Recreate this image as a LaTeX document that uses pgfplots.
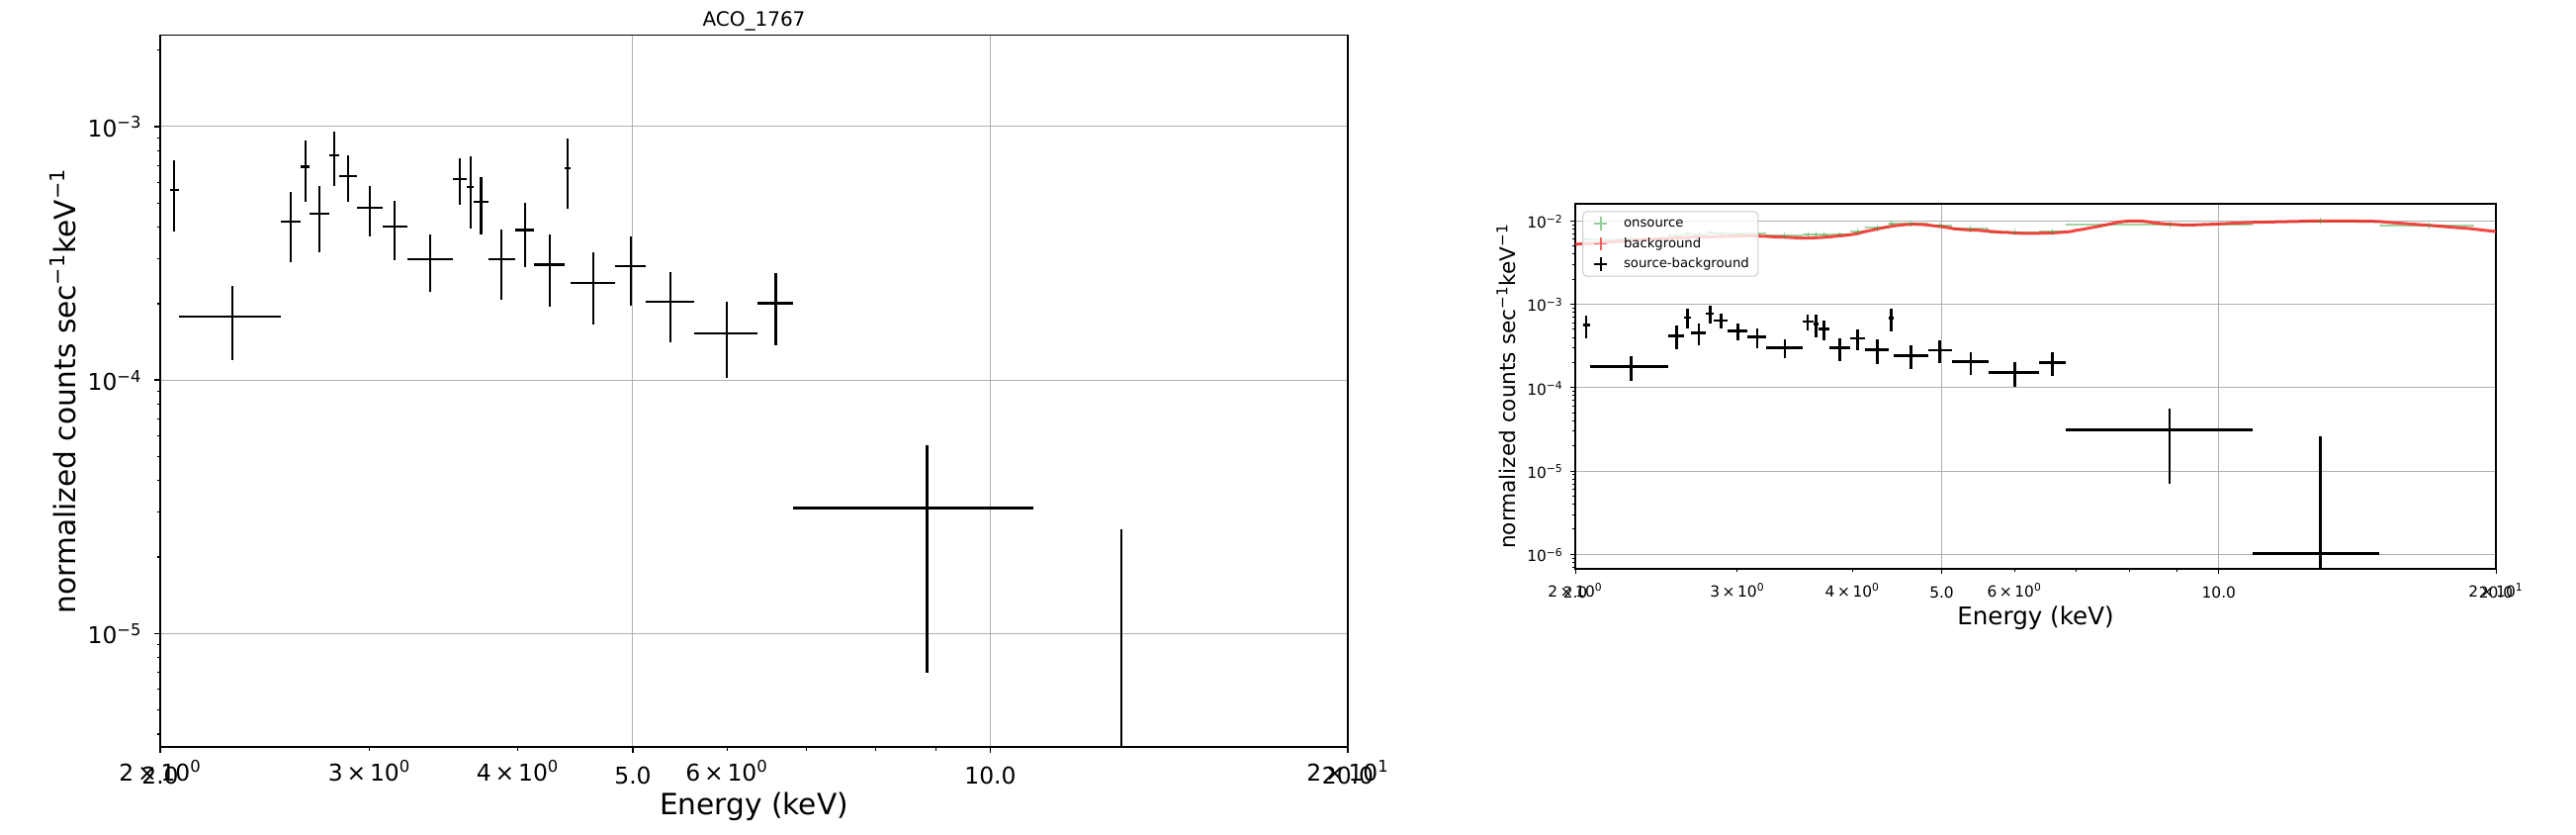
\documentclass[border=0pt]{standalone}
\usepackage{fontspec}
\setmainfont{DejaVu Sans}
\usepackage{pgfplots}
\pgfplotsset{compat=1.18}
\usepackage{pgfplotstable}

\definecolor{gridgray}{RGB}{176,176,176}
\definecolor{ongreen}{RGB}{44,160,44}
\definecolor{bgred}{RGB}{238,40,35}
\definecolor{leggray}{RGB}{204,204,204}

\pgfplotstableread{
c h y ey eym
2.0555 0.0175 5.62e-4 1.75e-4 1.75e-4
2.300 0.225 1.778e-4 0.58e-4 0.58e-4
2.575 0.050 4.21e-4 1.30e-4 1.30e-4
2.649 0.024 6.95e-4 1.89e-4 1.89e-4
2.724 0.051 4.52e-4 1.32e-4 1.32e-4
2.802 0.027 7.70e-4 1.89e-4 1.89e-4
2.8785 0.0495 6.38e-4 1.31e-4 1.31e-4
3.0025 0.0745 4.77e-4 1.07e-4 1.07e-4
3.152 0.075 4.03e-4 1.06e-4 1.06e-4
3.3775 0.1505 2.99e-4 0.76e-4 0.76e-4
3.577 0.049 6.20e-4 1.29e-4 1.29e-4
3.650 0.024 5.79e-4 1.83e-4 1.83e-4
3.7255 0.0515 5.04e-4 1.30e-4 1.30e-4
3.8785 0.1015 2.99e-4 0.92e-4 0.92e-4
4.055 0.075 3.91e-4 1.11e-4 1.11e-4
4.255 0.125 2.85e-4 0.91e-4 0.91e-4
4.405 0.025 6.86e-4 2.10e-4 2.10e-4
4.631 0.201 2.42e-4 0.77e-4 0.77e-4
4.9785 0.1465 2.82e-4 0.85e-4 0.85e-4
5.3765 0.2515 2.04e-4 0.63e-4 0.63e-4
6.0005 0.3725 1.53e-4 0.51e-4 0.51e-4
6.5955 0.2225 2.01e-4 0.64e-4 0.64e-4
8.844 2.026 3.12e-5 2.42e-5 2.42e-5
12.895 2.025 1.03e-6 2.48e-5 1.029e-6
}\srcdata

\pgfplotstableread{
c h on
2.0555 0.0175 5.92e-3
2.300 0.225 6.03e-3
2.575 0.050 6.69e-3
2.649 0.024 7.03e-3
2.724 0.051 6.85e-3
2.802 0.027 7.22e-3
2.8785 0.0495 7.16e-3
3.0025 0.0745 7.08e-3
3.152 0.075 7.00e-3
3.3775 0.1505 6.68e-3
3.577 0.049 6.85e-3
3.650 0.024 6.88e-3
3.7255 0.0515 6.88e-3
3.8785 0.1015 6.90e-3
4.055 0.075 7.44e-3
4.255 0.125 8.24e-3
4.405 0.025 9.31e-3
4.631 0.201 9.34e-3
4.9785 0.1465 8.83e-3
5.3765 0.2515 8.00e-3
6.0005 0.3725 7.35e-3
6.5955 0.2225 7.40e-3
8.844 2.026 8.96e-3
12.895 2.025 9.90e-3
16.93 2.010 8.70e-3
}\ondata

\pgfplotstableread{
E v
2.00 5.25e-3
2.05 5.32e-3
2.10 5.40e-3
2.15 5.52e-3
2.20 5.60e-3
2.26 5.74e-3
2.32 5.86e-3
2.38 5.96e-3
2.45 6.06e-3
2.52 6.17e-3
2.60 6.28e-3
2.70 6.40e-3
2.80 6.44e-3
2.90 6.54e-3
3.00 6.59e-3
3.08 6.65e-3
3.15 6.58e-3
3.22 6.53e-3
3.30 6.43e-3
3.40 6.36e-3
3.48 6.26e-3
3.55 6.21e-3
3.62 6.25e-3
3.70 6.33e-3
3.78 6.44e-3
3.86 6.59e-3
3.92 6.69e-3
3.98 6.83e-3
4.05 7.04e-3
4.12 7.42e-3
4.20 7.74e-3
4.28 8.12e-3
4.36 8.44e-3
4.44 8.74e-3
4.52 8.93e-3
4.60 9.09e-3
4.68 9.11e-3
4.76 9.06e-3
4.84 8.89e-3
4.92 8.71e-3
5.00 8.54e-3
5.08 8.31e-3
5.16 8.04e-3
5.25 7.91e-3
5.35 7.81e-3
5.45 7.76e-3
5.56 7.61e-3
5.68 7.46e-3
5.80 7.31e-3
5.92 7.26e-3
6.05 7.14e-3
6.18 7.08e-3
6.30 7.09e-3
6.45 7.13e-3
6.60 7.19e-3
6.75 7.29e-3
6.90 7.44e-3
7.00 7.71e-3
7.12 7.94e-3
7.25 8.26e-3
7.38 8.54e-3
7.50 8.86e-3
7.62 9.19e-3
7.74 9.56e-3
7.85 9.79e-3
7.98 9.96e-3
8.12 1.00e-2
8.25 9.94e-3
8.38 9.76e-3
8.50 9.49e-3
8.65 9.31e-3
8.80 9.14e-3
9.00 9.03e-3
9.18 8.91e-3
9.40 8.96e-3
9.60 9.04e-3
9.80 9.11e-3
10.0 9.21e-3
10.3 9.36e-3
10.6 9.49e-3
10.9 9.61e-3
11.3 9.69e-3
11.7 9.79e-3
12.1 9.84e-3
12.5 9.96e-3
12.9 1.00e-2
13.3 9.97e-3
13.8 9.96e-3
14.3 9.94e-3
14.9 9.86e-3
15.4 9.54e-3
15.9 9.31e-3
16.5 9.04e-3
17.2 8.73e-3
17.9 8.41e-3
18.7 8.11e-3
19.3 7.79e-3
20.0 7.45e-3
}\bgdata

\begin{document}
\begin{tikzpicture}
\path[use as bounding box] (0,0) rectangle (1302.5pt,421.5pt);

% ---------------- left panel ----------------
\begin{axis}[
  at={(81pt,44pt)}, anchor=south west,
  width=600.5pt, height=359.75pt, scale only axis,
  xmode=log, ymode=log,
  xmin=2, xmax=20, ymin=3.557e-6, ymax=2.297e-3,
  xtick={2,5,10,20}, xticklabels={2.0,5.0,10.0,20.0},
  minor xtick={3,4,6,7,8,9},
  extra x ticks={2,3,4,6,20},
  extra x tick labels={2\,×\,10\textsuperscript{0},3\,×\,10\textsuperscript{0},4\,×\,10\textsuperscript{0},6\,×\,10\textsuperscript{0},2\,×\,10\textsuperscript{1}},
  extra x tick style={grid=none, major tick length=1.75pt},
  ytick={1e-5,1e-4,1e-3},
  yticklabels={10\textsuperscript{−5},10\textsuperscript{−4},10\textsuperscript{−3}},
  minor ytick={4e-6,5e-6,6e-6,7e-6,8e-6,9e-6,2e-5,3e-5,4e-5,5e-5,6e-5,7e-5,8e-5,9e-5,2e-4,3e-4,4e-4,5e-4,6e-4,7e-4,8e-4,9e-4,2e-3},
  grid=major, major grid style={gridgray, line width=0.5pt},
  tick align=outside, xtick pos=bottom, ytick pos=left,
  major tick length=3pt, minor tick length=1.75pt,
  every tick/.style={black, line width=0.55pt},
  axis line style={line width=0.6pt},
  tick label style={font=\fontsize{11.7}{14}\selectfont},
  xticklabel style={anchor=base, yshift=-15.5pt},
  yticklabel style={anchor=base east, inner xsep=0pt, xshift=-6pt, yshift=-5.35pt},
  title={ACO\_1767},
  every axis title/.style={at={(axis description cs:0.5,1.0125)}, anchor=base, font=\fontsize{10}{12}\selectfont},
  xlabel={Energy (keV)},
  xlabel style={at={(axis description cs:0.5,-0.0945)}, anchor=base, font=\fontsize{14.8}{17}\selectfont},
  ylabel={normalized counts sec\textsuperscript{−1}keV\textsuperscript{−1}},
  ylabel style={at={(axis description cs:-0.082,0.5)}, anchor=center, font=\fontsize{14.8}{17}\selectfont},
]
\addplot[draw=none, mark=none,
  error bars/.cd, x dir=both, x explicit, y dir=both, y explicit,
  error mark=none, error bar style={draw=black, line width=1.1pt}]
  table[x=c, y=y, x error=h, y error plus=ey, y error minus=eym] {\srcdata};
\end{axis}

% ---------------- right panel ----------------
\begin{axis}[
  at={(796.5pt,134pt)}, anchor=south west,
  width=465.5pt, height=184.5pt, scale only axis,
  xmode=log, ymode=log,
  xmin=2, xmax=20, ymin=6.69e-7, ymax=1.604e-2,
  xtick={2,5,10,20}, xticklabels={2.0,5.0,10.0,20.0},
  minor xtick={3,4,6,7,8,9},
  extra x ticks={2,3,4,6,20},
  extra x tick labels={2\,×\,10\textsuperscript{0},3\,×\,10\textsuperscript{0},4\,×\,10\textsuperscript{0},6\,×\,10\textsuperscript{0},2\,×\,10\textsuperscript{1}},
  extra x tick style={grid=none, major tick length=1.5pt},
  ytick={1e-6,1e-5,1e-4,1e-3,1e-2},
  yticklabels={10\textsuperscript{−6},10\textsuperscript{−5},10\textsuperscript{−4},10\textsuperscript{−3},10\textsuperscript{−2}},
  minor ytick={7e-7,8e-7,9e-7,2e-6,3e-6,4e-6,5e-6,6e-6,7e-6,8e-6,9e-6,2e-5,3e-5,4e-5,5e-5,6e-5,7e-5,8e-5,9e-5,2e-4,3e-4,4e-4,5e-4,6e-4,7e-4,8e-4,9e-4,2e-3,3e-3,4e-3,5e-3,6e-3,7e-3,8e-3,9e-3},
  grid=major, major grid style={gridgray, line width=0.5pt},
  tick align=outside, xtick pos=bottom, ytick pos=left,
  major tick length=2.4pt, minor tick length=1.5pt,
  every tick/.style={black, line width=0.5pt},
  axis line style={line width=0.6pt},
  tick label style={font=\fontsize{7.7}{9}\selectfont},
  xticklabel style={anchor=base, yshift=-12.5pt},
  yticklabel style={anchor=base east, inner xsep=0pt, xshift=-3.5pt, yshift=-3.7pt},
  xlabel={Energy (keV)},
  xlabel style={at={(axis description cs:0.5,-0.1518)}, anchor=base, font=\fontsize{12.3}{14}\selectfont},
  ylabel={normalized counts sec\textsuperscript{−1}keV\textsuperscript{−1}},
  ylabel style={at={(axis description cs:-0.0752,0.5)}, anchor=center, font=\fontsize{10.8}{13}\selectfont},
  legend style={at={(axis description cs:0.0075,0.98)}, anchor=north west,
    draw=leggray, line width=0.5pt, rounded corners=2pt, fill=white, fill opacity=0.8, text opacity=1, draw opacity=1,
    font=\fontsize{6.6}{7.9}\selectfont, inner xsep=3.5pt, inner ysep=1.5pt,
    column sep=5pt, row sep=1.15pt,
    nodes={inner sep=1pt, text height=5.5pt, text depth=1.6pt}},
  legend cell align=left,
  legend image code/.code={\path (0pt,-3pt) (10pt,3pt); \draw[mark repeat=2, mark phase=2, #1] plot coordinates {(0pt,0pt) (5pt,0pt) (10pt,0pt)};},
]
\addplot[forget plot, only marks, mark=+, mark size=1.6pt, ongreen, opacity=0.45,
  error bars/.cd, x dir=both, x explicit, error mark=none,
  error bar style={draw=ongreen, line width=1pt, opacity=0.45}]
  table[x=c, y=on, x error=h] {\ondata};
\addplot[forget plot, no marks, bgred, line width=1.5pt, opacity=0.85] table[x=E, y=v] {\bgdata};
\addplot[forget plot, draw=none, mark=none,
  error bars/.cd, x dir=both, x explicit, y dir=both, y explicit,
  error mark=none, error bar style={draw=black, line width=1.35pt}]
  table[x=c, y=y, x error=h, y error plus=ey, y error minus=eym] {\srcdata};
\addlegendimage{only marks, mark=+, mark size=3.3pt, ongreen, opacity=0.5, line width=0.7pt}
\addlegendentry{onsource}
\addlegendimage{only marks, mark=+, mark size=3.3pt, bgred, opacity=0.7, line width=0.9pt}
\addlegendentry{background}
\addlegendimage{only marks, mark=+, mark size=3.3pt, black, line width=1.3pt}
\addlegendentry{source-background}
\end{axis}
\end{tikzpicture}
\end{document}
